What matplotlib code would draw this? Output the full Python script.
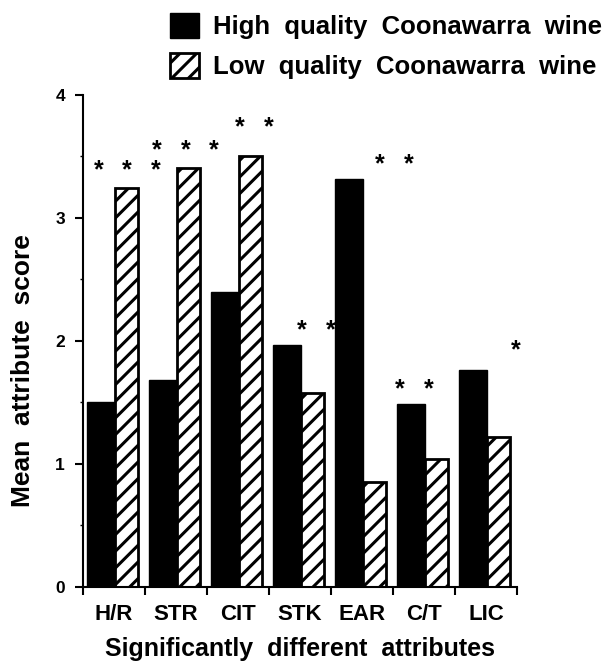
import matplotlib
matplotlib.use("Agg")
import matplotlib.pyplot as plt
import numpy as np

plt.rcParams["font.family"] = ["Liberation Sans", "DejaVu Sans"]
plt.rcParams["font.weight"] = "bold"
plt.rcParams["hatch.linewidth"] = 2.2

# data
attributes = ["H/R", "STR", "CIT", "STK", "EAR", "C/T", "LIC"]
high_quality = [1.50, 1.68, 2.40, 1.97, 3.32, 1.49, 1.76]
low_quality = [3.24, 3.41, 3.50, 1.58, 0.85, 1.04, 1.22]
n_stars = [3, 3, 2, 2, 2, 2, 1]

# layout of the significance stars (group-relative x centre, height above tallest bar)
star_x = [0.71, 0.65, 0.76, 0.76, 1.02, 0.34, 0.98]
star_dy = [0.15, 0.14, 0.24, 0.12, 0.12, 0.12, 0.16]
star_gap = 0.46

fig = plt.figure(figsize=(6.13, 6.64), dpi=100)
ax = fig.add_axes([0.1354, 0.116, 0.708, 0.741])

x = np.arange(len(attributes))
b_hi = ax.bar(x + 0.06, high_quality, width=0.45, align="edge",
              color="black", edgecolor="black", linewidth=1.0,
              label="High  quality  Coonawarra  wine")
b_lo = ax.bar(x + 0.51, low_quality, width=0.37, align="edge",
              color="white", edgecolor="black", linewidth=2.0, hatch="//",
              label="Low  quality  Coonawarra  wine")

for i in range(len(attributes)):
    top = max(high_quality[i], low_quality[i]) + star_dy[i]
    k = n_stars[i]
    for j in range(k):
        sx = i + star_x[i] + (j - (k - 1) / 2) * star_gap
        ax.text(sx, top, "*", ha="center", va="center",
                fontsize=18, fontweight="bold")

ax.set_xlim(0, 7)
ax.set_ylim(0, 4)
ax.spines["top"].set_visible(False)
ax.spines["right"].set_visible(False)
ax.spines["left"].set_linewidth(1.5)
ax.spines["bottom"].set_linewidth(1.5)

ax.set_xticks(np.arange(0, 8))
ax.set_xticklabels([])
ax.set_xticks(x + 0.5, minor=True)
ax.set_xticklabels(attributes, minor=True, fontsize=16, fontweight="bold")
ax.tick_params(axis="x", which="major", direction="out", length=6, width=1.5)
ax.tick_params(axis="x", which="minor", length=0, pad=12)

ax.set_yticks([0, 1, 2, 3, 4])
ax.set_yticks(np.arange(0.5, 4, 1), minor=True)
ax.tick_params(axis="y", which="major", direction="out", length=6, width=1.5,
               labelsize=12.5, pad=7)
ax.tick_params(axis="y", which="minor", direction="out", length=2, width=1.0)
for lab in ax.get_yticklabels():
    lab.set_fontweight("bold")

ax.set_ylabel("Mean  attribute  score", fontsize=19, fontweight="bold")
ax.yaxis.set_label_coords(-0.11, 0.44)
ax.set_xlabel("Significantly  different  attributes", fontsize=18,
              fontweight="bold", labelpad=9)

fig.legend(handles=[b_hi, b_lo], loc="upper left", bbox_to_anchor=(0.24, 1.015),
           frameon=False, handlelength=1.1, handleheight=1.1,
           handletextpad=0.55, labelspacing=0.55, prop={"weight": "bold", "size": 18.5})

fig.savefig("out.png", dpi=100)
